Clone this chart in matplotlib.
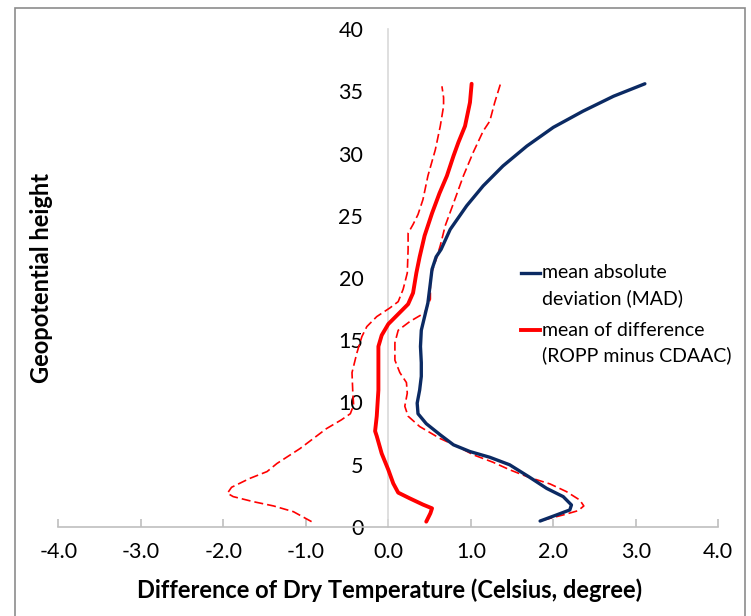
import matplotlib
matplotlib.use('Agg')
from matplotlib import pyplot as plt
from matplotlib.lines import Line2D
from matplotlib.patches import Rectangle

plt.rcParams['font.family'] = ['Lato', 'DejaVu Sans']

# mean absolute deviation (MAD) profile: height, value
mad_height = [0.48, 0.97, 1.37, 1.77, 2.44, 3.1, 4.05, 5.0, 5.6, 6.06, 6.6, 7.4, 8.3,
              9.1, 9.95, 11.0, 12.1, 13.2, 14.5, 15.8, 16.9, 18.0, 19.6, 20.7, 21.7,
              22.3, 23.9, 25.8, 27.4, 29.0, 30.6, 32.1, 33.4, 34.6, 35.6]
mad_value = [1.84, 2.04, 2.20, 2.22, 2.12, 1.92, 1.70, 1.47, 1.23, 0.99, 0.79, 0.63, 0.46,
             0.36, 0.35, 0.38, 0.40, 0.40, 0.39, 0.40, 0.44, 0.48, 0.51, 0.53, 0.58,
             0.64, 0.75, 0.95, 1.15, 1.39, 1.68, 2.00, 2.36, 2.73, 3.11]

# mean of difference (ROPP minus CDAAC)
mean_height = [0.43, 1.1, 1.5, 1.8, 2.3, 2.76, 3.5, 4.6, 5.9, 7.3, 7.7, 8.9, 11.0, 13.2,
               14.5, 15.4, 16.3, 17.1, 17.9, 18.8, 20.4, 21.7, 23.4, 25.2, 26.8, 28.2,
               29.8, 30.9, 32.2, 34.1, 35.6]
mean_value = [0.46, 0.51, 0.53, 0.42, 0.26, 0.12, 0.06, 0.0, -0.08, -0.14, -0.16, -0.14,
              -0.12, -0.12, -0.12, -0.08, 0.0, 0.12, 0.24, 0.30, 0.34, 0.38, 0.44, 0.53,
              0.62, 0.71, 0.79, 0.85, 0.93, 0.99, 1.01]

# lower bound of the difference
low_height = [0.43, 1.23, 1.69, 2.04, 2.44, 2.71, 3.19, 3.9, 4.45, 5.1, 6.3, 7.1, 7.9,
              8.6, 9.1, 9.8, 10.75, 12.4, 14.0, 15.3, 16.1, 16.9, 17.6, 18.1, 19.1,
              20.4, 22.3, 23.6, 24.3, 25.1, 26.3, 28.2, 30.3, 32.2, 33.8, 34.5, 35.4]
low_value = [-0.93, -1.15, -1.39, -1.64, -1.88, -1.95, -1.90, -1.68, -1.47, -1.35, -1.07,
             -0.91, -0.75, -0.57, -0.46, -0.42, -0.43, -0.44, -0.38, -0.32, -0.26, -0.14,
             0.02, 0.12, 0.18, 0.23, 0.24, 0.24, 0.30, 0.36, 0.42, 0.48, 0.57, 0.63,
             0.67, 0.67, 0.65]

# upper bound of the difference
high_height = [0.56, 0.97, 1.31, 1.69, 2.17, 2.84, 3.46, 4.0, 4.6, 5.2, 5.8, 6.5, 7.1,
               8.07, 8.9, 9.7, 10.75, 11.6, 12.4, 13.4, 14.8, 15.8, 16.5, 17.2, 18.3,
               20.1, 21.5, 22.6, 23.4, 24.2, 26.0, 28.2, 30.1, 31.8, 32.6, 34.1, 35.6]
high_value = [1.88, 2.12, 2.30, 2.37, 2.32, 2.16, 1.96, 1.70, 1.47, 1.27, 1.03, 0.83, 0.63,
              0.38, 0.24, 0.20, 0.23, 0.22, 0.14, 0.08, 0.08, 0.12, 0.26, 0.44, 0.51,
              0.51, 0.58, 0.63, 0.66, 0.69, 0.79, 0.91, 1.03, 1.15, 1.23, 1.29, 1.36]

x_ticks = [-4, -3, -2, -1, 0, 1, 2, 3, 4]
y_ticks = [0, 5, 10, 15, 20, 25, 30, 35, 40]

NAVY = '#0b2a63'
RED = '#ff0000'

fig = plt.figure(figsize=(7.51, 6.16), dpi=100)
ax = fig.add_axes([58.3 / 751, 1 - 527 / 616, 660 / 751, (527 - 29) / 616])

ax.plot(low_value, low_height, color=RED, lw=1.2, dashes=(5.4, 2.4),
        solid_joinstyle='round', dash_capstyle='butt', zorder=3)
ax.plot(high_value, high_height, color=RED, lw=1.2, dashes=(5.4, 2.4),
        solid_joinstyle='round', dash_capstyle='butt', zorder=3)
ax.plot(mean_value, mean_height, color=RED, lw=2.8,
        solid_joinstyle='round', solid_capstyle='round', zorder=4)
ax.plot(mad_value, mad_height, color=NAVY, lw=2.4,
        solid_joinstyle='round', solid_capstyle='round', zorder=5)

ax.set_xlim(-4, 4)
ax.set_ylim(0, 40)
ax.set_xticks(x_ticks)
ax.set_xticklabels(['%.1f' % v for v in x_ticks])
ax.set_yticks(y_ticks)

for side in ['top', 'right']:
    ax.spines[side].set_visible(False)
ax.spines['left'].set_position(('data', 0))
ax.spines['left'].set_color('#d9d9d9')
ax.spines['left'].set_linewidth(1.2)
ax.spines['bottom'].set_color('#bfbfbf')
ax.spines['bottom'].set_linewidth(1.2)

ax.tick_params(axis='x', direction='in', length=6, width=1.2, color='#bfbfbf',
               pad=11, labelsize=15.5)
ax.tick_params(axis='y', length=0, pad=18, labelsize=15.5)

fig.text(390 / 751, 1 - 590 / 616, 'Difference of Dry Temperature (Celsius, degree)',
         ha='center', va='center', fontsize=17, fontweight='bold')
fig.text(42 / 751, 1 - 278 / 616, 'Geopotential height', rotation=90,
         ha='center', va='center', fontsize=17, fontweight='bold')

# legend entries, handle level with the first text line
legend_items = [
    (NAVY, 2.4, 273, ['mean absolute', 'deviation (MAD)']),
    (RED, 2.8, 330, ['mean of difference', '(ROPP minus CDAAC)']),
]
for color, lw, y0, lines in legend_items:
    fig.add_artist(Line2D([521 / 751, 540 / 751], [1 - y0 / 616, 1 - y0 / 616],
                          color=color, lw=lw, transform=fig.transFigure))
    for i, line in enumerate(lines):
        fig.text(542 / 751, 1 - (y0 + 25 * i) / 616, line,
                 ha='left', va='center', fontsize=14)

# chart border
fig.add_artist(Rectangle((15 / 751, -0.05), (745 - 15) / 751, 1.05 - 8 / 616,
                         transform=fig.transFigure, fill=False,
                         edgecolor='#8c8c8c', lw=1.2))

fig.savefig('out.png', dpi=100)
